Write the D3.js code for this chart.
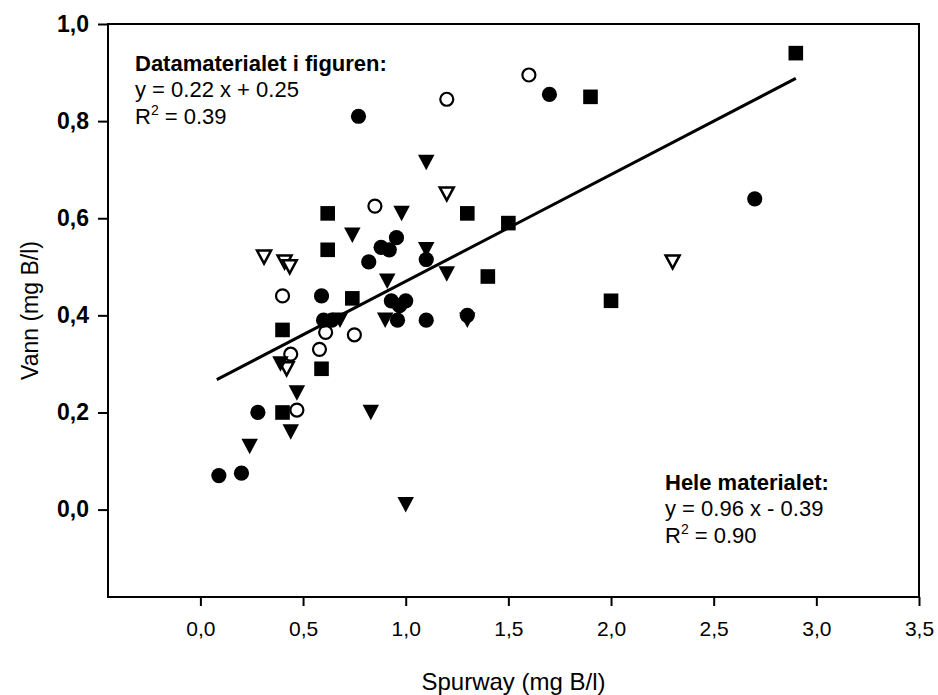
<!DOCTYPE html>
<html>
<head>
<meta charset="utf-8">
<script src="https://cdn.jsdelivr.net/npm/d3@7"></script>
<style>
  body { margin: 0; background: #fff; }
  svg { font-family: "Liberation Sans", Arial, sans-serif; }
  .axis path.domain { display: none; }
  .axis line { stroke: #000; stroke-width: 2; }
  .axis text { fill: #000; }
</style>
</head>
<body>
<svg width="938" height="695"></svg>
<script>
// data, [Spurway, Vann]
const filledCircles = [
  [0.09, 0.07], [0.20, 0.075], [0.28, 0.20], [0.59, 0.44], [0.60, 0.39], [0.64, 0.39],
  [0.77, 0.81], [0.82, 0.51], [0.88, 0.54], [0.92, 0.535], [0.955, 0.56],
  [0.93, 0.43], [0.97, 0.42], [1.0, 0.43], [0.96, 0.39], [1.10, 0.39],
  [1.10, 0.515], [1.30, 0.40], [1.70, 0.855], [2.70, 0.64]
];
const openCircles = [
  [0.40, 0.44], [0.44, 0.32], [0.47, 0.205], [0.58, 0.33], [0.61, 0.365],
  [0.75, 0.36], [0.85, 0.625], [1.20, 0.845], [1.60, 0.895]
];
const filledTriangles = [
  [0.24, 0.13], [0.44, 0.16], [0.47, 0.24], [0.39, 0.30], [0.68, 0.39],
  [0.74, 0.565], [0.90, 0.39], [0.91, 0.47], [0.98, 0.61], [1.10, 0.535],
  [1.10, 0.715], [1.20, 0.485], [1.30, 0.39], [0.83, 0.20], [1.0, 0.01]
];
const openTriangles = [
  [0.31, 0.52], [0.41, 0.51], [0.435, 0.50], [0.42, 0.29], [1.20, 0.65], [2.30, 0.51]
];
const filledSquares = [
  [0.40, 0.37], [0.40, 0.20], [0.59, 0.29], [0.62, 0.61], [0.62, 0.535], [0.74, 0.435],
  [1.30, 0.61], [1.40, 0.48], [1.50, 0.59], [1.90, 0.85], [2.00, 0.43], [2.90, 0.94]
];

// regression for the points in the figure
const fitSlope = 0.22;
const fitIntercept = 0.25;
const fitRange = [0.08, 2.9];

const xTicks = [0, 0.5, 1, 1.5, 2, 2.5, 3, 3.5];
const yTicks = [0, 0.2, 0.4, 0.6, 0.8, 1.0];

const noteFigure = ['Datamaterialet i figuren:', 'y = 0.22 x + 0.25', 'R', ' = 0.39'];
const noteAll = ['Hele materialet:', 'y = 0.96 x - 0.39', 'R', ' = 0.90'];

const plotL = 108, plotR = 919, plotT = 24, plotB = 597;

const x = d3.scaleLinear().domain([-0.45, 3.5]).range([plotL, plotR]);
const y = d3.scaleLinear().domain([-0.18, 1.0]).range([plotB, plotT]);

const svg = d3.select('svg');
const comma = d => d.toFixed(1).replace('.', ',');

// x axis
svg.append('g')
    .attr('class', 'axis')
    .attr('transform', `translate(0, ${plotB})`)
    .call(d3.axisBottom(x).tickValues(xTicks).tickSize(9).tickPadding(15).tickFormat(comma))
    .selectAll('text')
    .style('font-size', '21px');

// y axis
svg.append('g')
    .attr('class', 'axis')
    .attr('transform', `translate(${plotL}, 0)`)
    .call(d3.axisLeft(y).tickValues(yTicks).tickSize(10).tickPadding(9).tickFormat(comma))
    .selectAll('text')
    .style('font-size', '23px')
    .style('font-weight', 'bold');

// frame
svg.append('rect')
    .attr('x', plotL)
    .attr('y', plotT)
    .attr('width', plotR - plotL)
    .attr('height', plotB - plotT)
    .attr('fill', 'none')
    .attr('stroke', '#000')
    .attr('stroke-width', 2);

// axis titles
svg.append('text')
    .attr('x', (plotL + plotR) / 2)
    .attr('y', 690)
    .attr('text-anchor', 'middle')
    .style('font-size', '24px')
    .text('Spurway (mg B/l)');

svg.append('text')
    .attr('transform', `translate(38, ${(plotT + plotB) / 2}) rotate(-90)`)
    .attr('text-anchor', 'middle')
    .style('font-size', '23px')
    .text('Vann (mg B/l)');

// fit line
svg.append('line')
    .attr('x1', x(fitRange[0]))
    .attr('y1', y(fitSlope * fitRange[0] + fitIntercept))
    .attr('x2', x(fitRange[1]))
    .attr('y2', y(fitSlope * fitRange[1] + fitIntercept))
    .attr('stroke', '#000')
    .attr('stroke-width', 3);

// markers
const tri = (w, h) => `M${-w / 2},${-h / 2}L${w / 2},${-h / 2}L0,${h / 2}Z`;

svg.selectAll('.sq').data(filledSquares)
    .enter().append('rect')
    .attr('x', d => x(d[0]) - 7.3)
    .attr('y', d => y(d[1]) - 7.3)
    .attr('width', 14.6)
    .attr('height', 14.6)
    .attr('fill', '#000');

svg.selectAll('.otri').data(openTriangles)
    .enter().append('path')
    .attr('d', tri(14, 13))
    .attr('transform', d => `translate(${x(d[0])}, ${y(d[1])})`)
    .attr('fill', '#fff')
    .attr('stroke', '#000')
    .attr('stroke-width', 2.5)
    .attr('stroke-linejoin', 'miter');

svg.selectAll('.ocirc').data(openCircles)
    .enter().append('circle')
    .attr('cx', d => x(d[0]))
    .attr('cy', d => y(d[1]))
    .attr('r', 6.5)
    .attr('fill', '#fff')
    .attr('stroke', '#000')
    .attr('stroke-width', 2.2);

svg.selectAll('.ftri').data(filledTriangles)
    .enter().append('path')
    .attr('d', tri(16.5, 15.5))
    .attr('transform', d => `translate(${x(d[0])}, ${y(d[1])})`)
    .attr('fill', '#000');

svg.selectAll('.fcirc').data(filledCircles)
    .enter().append('circle')
    .attr('cx', d => x(d[0]))
    .attr('cy', d => y(d[1]))
    .attr('r', 7.6)
    .attr('fill', '#000');

// notes
function note(lines, x0, y0) {
  const g = svg.append('g').style('font-size', '22px');
  g.append('text').attr('x', x0).attr('y', y0).style('font-weight', 'bold').text(lines[0]);
  g.append('text').attr('x', x0).attr('y', y0 + 26).text(lines[1]);
  const t = g.append('text').attr('x', x0).attr('y', y0 + 53);
  t.append('tspan').text(lines[2]);
  t.append('tspan').attr('dy', -9).style('font-size', '14px').text('2');
  t.append('tspan').attr('dy', 9).text(lines[3]);
}
note(noteFigure, 135, 71);
note(noteAll, 665, 490);
</script>
</body>
</html>
